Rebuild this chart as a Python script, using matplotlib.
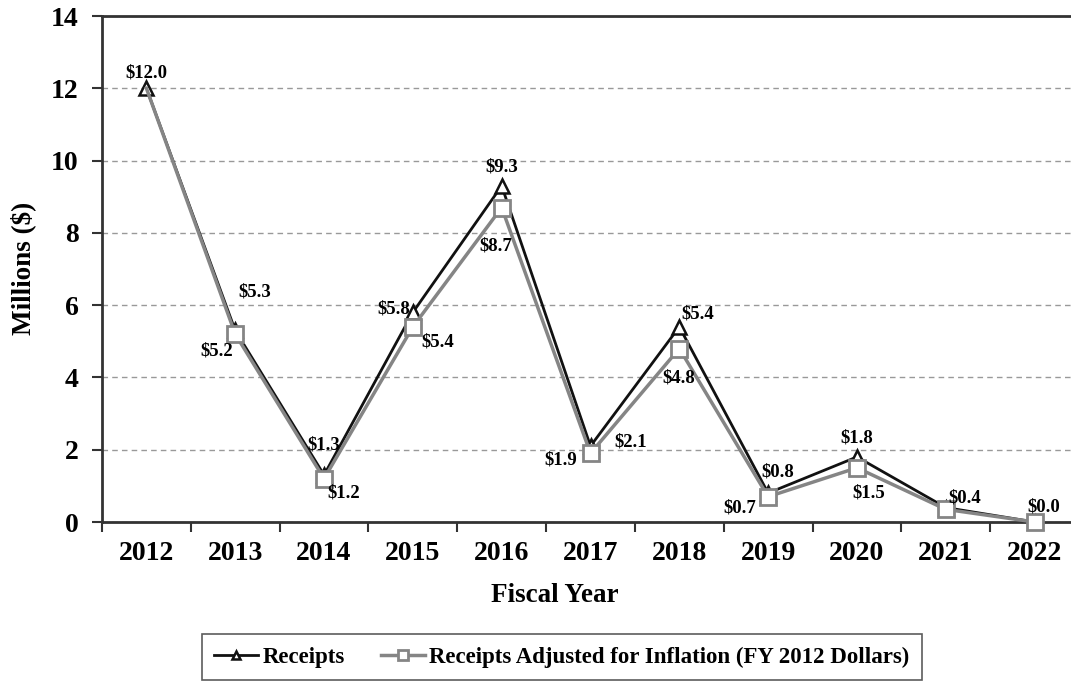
import matplotlib.pyplot as plt
import numpy as np

# data
years = ["2012", "2013", "2014", "2015", "2016", "2017", "2018", "2019", "2020", "2021", "2022"]
receipts = [12.0, 5.3, 1.3, 5.8, 9.3, 2.1, 5.4, 0.8, 1.8, 0.4, 0.0]
adjusted = [12.0, 5.2, 1.2, 5.4, 8.7, 1.9, 4.8, 0.7, 1.5, 0.35, 0.0]
receipt_labels = ["$12.0", "$5.3", "$1.3", "$5.8", "$9.3", "$2.1", "$5.4", "$0.8", "$1.8", "$0.4", "$0.0"]
adjusted_labels = ["", "$5.2", "$1.2", "$5.4", "$8.7", "$1.9", "$4.8", "$0.7", "$1.5", "", ""]

# label offsets in pixels (dx, dy)
receipt_off = [(0, 15), (20, 38), (0, 30), (-19, 3), (0, 19), (40, 4),
               (18, 13), (10, 21), (0, 19), (19, 10), (9, 15)]
adjusted_off = [(0, 0), (-19, -17), (20, -14), (25, -15), (-6, -38), (-30, -7),
                (-1, -29), (-28, -11), (12, -25), (0, 0), (0, 0)]

plt.rcParams['font.family'] = ['Liberation Serif', 'DejaVu Serif']
plt.rcParams['font.weight'] = 'bold'

W, H = 1071, 681
fig = plt.figure(figsize=(W / 100, H / 100), dpi=100)
ax = fig.add_axes([102 / W, 1 - 522 / H, 977 / W, 506 / H])

x = np.arange(len(years))
ax.plot(x, receipts, color="#111111", lw=2, marker="^", ms=10,
        mfc="white", mec="#111111", mew=1.8, label="Receipts", zorder=3, clip_on=False)
ax.plot(x, adjusted, color="#858585", lw=2.5, marker="s", ms=11,
        mfc="white", mec="#858585", mew=2, markevery=list(range(1, 11)),
        label="Receipts Adjusted for Inflation (FY 2012 Dollars)", zorder=4, clip_on=False)

for i in range(len(years)):
    if receipt_labels[i]:
        ax.annotate(receipt_labels[i], (x[i], receipts[i]), xytext=receipt_off[i],
                    textcoords="offset pixels", ha="center", va="center",
                    fontsize=13.5, fontweight="bold", zorder=5)
    if adjusted_labels[i]:
        ax.annotate(adjusted_labels[i], (x[i], adjusted[i]), xytext=adjusted_off[i],
                    textcoords="offset pixels", ha="center", va="center",
                    fontsize=13.5, fontweight="bold", zorder=5)

ax.set_xlim(-0.5, 10.5)
ax.set_ylim(0, 14)
ax.set_yticks(range(0, 15, 2))
ax.set_xticks(x)
ax.set_xticklabels(years)
ax.set_xticks(np.arange(-0.5, 11, 1), minor=True)
ax.tick_params(axis="x", which="major", length=0, pad=14, labelsize=20)
ax.tick_params(axis="x", which="minor", length=7, width=1.5, color="#333333")
ax.tick_params(axis="y", length=7, width=1.5, color="#333333", pad=10, labelsize=20)

ax.yaxis.grid(True, linestyle=(0, (4, 3)), color="#999999", lw=1)
for s in ["left", "bottom", "top"]:
    ax.spines[s].set_color("#333333")
    ax.spines[s].set_linewidth(2)
ax.spines["right"].set_visible(False)

fig.text(555 / W, 1 - 595 / H, "Fiscal Year", fontsize=19.5, fontweight="bold",
         ha="center", va="center")
fig.text(23 / W, 1 - 268 / H, "Millions ($)", fontsize=19.5, fontweight="bold",
         ha="center", va="center", rotation=90)

leg = fig.legend(loc="center", bbox_to_anchor=(562 / W, 1 - 657 / H), ncol=2,
                 frameon=True, fancybox=False, edgecolor="#333333", fontsize=16.5,
                 handlelength=1.9, handletextpad=0.2, columnspacing=1.6,
                 borderpad=0.55, borderaxespad=0, markerscale=0.6)
leg.get_frame().set_linewidth(1.2)
for t in leg.get_texts():
    t.set_fontweight("bold")

fig.savefig("out.png", dpi=100)
